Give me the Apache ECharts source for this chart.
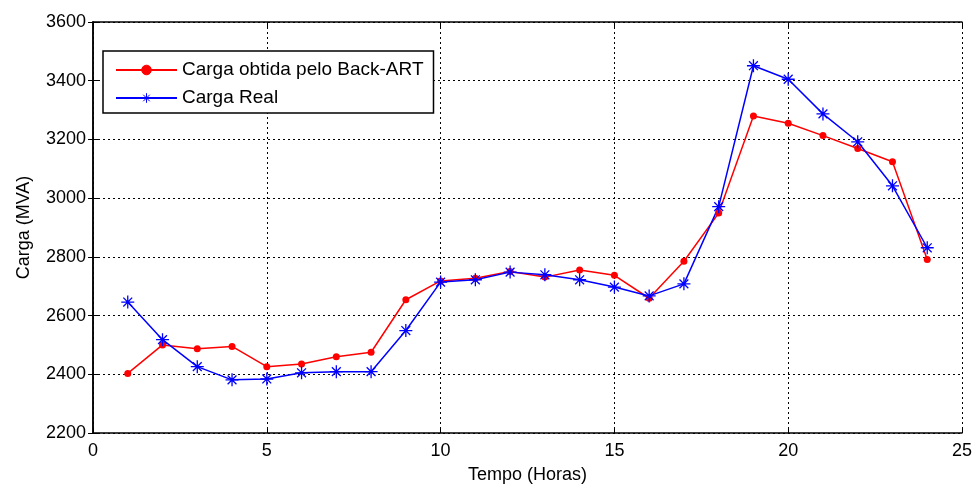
<!DOCTYPE html>
<html>
<head>
<meta charset="utf-8">
<script src="https://cdn.jsdelivr.net/npm/echarts@6/dist/echarts.min.js"></script>
<style>
  html, body { margin: 0; padding: 0; background: #fff; }
  #chart { width: 973px; height: 486px; }
</style>
</head>
<body>
<div id="chart"></div>
<script>
// horas do dia
const horas = [1, 2, 3, 4, 5, 6, 7, 8, 9, 10, 11, 12, 13, 14, 15, 16, 17, 18, 19, 20, 21, 22, 23, 24]
// carga estimada (Back-ART)
const cargaBackArt = [2403, 2500, 2487, 2495, 2426, 2435, 2460, 2475, 2654, 2718, 2727, 2750,
  2731, 2755, 2737, 2659, 2785, 2949, 3280, 3255, 3213, 3169, 3124, 2791]
// carga medida
const cargaReal = [2646, 2518, 2426, 2381, 2384, 2405, 2409, 2409, 2549, 2714, 2722, 2748,
  2739, 2722, 2697, 2667, 2708, 2971, 3451, 3405, 3287, 3192, 3042, 2831]

const nomes = ['Carga obtida pelo Back-ART', 'Carga Real']

const chart = echarts.init(document.getElementById('chart'))

const fonte = 'Liberation Sans, Arial, sans-serif'
const asterisco = 'path://M5,0L5,10M0,5L10,5M1.6,1.6L8.4,8.4M1.6,8.4L8.4,1.6'

const eixoX = {
  type: 'value',
  min: 0,
  max: 25,
  interval: 5
}
const eixoY = {
  type: 'value',
  min: 2200,
  max: 3600,
  interval: 200
}

const option = {
  animation: false,
  textStyle: { fontFamily: fonte, color: '#000' },
  grid: { left: 93, right: 11, top: 22, bottom: 53, outerBoundsMode: 'none', containLabel: false },
  legend: {
    orient: 'vertical',
    left: 103,
    top: 51,
    data: nomes,
    itemWidth: 61,
    itemHeight: 12,
    itemGap: 8,
    padding: [9, 10, 5, 12],
    borderColor: '#000',
    borderWidth: 1.5,
    backgroundColor: '#fff',
    itemStyle: { borderWidth: 1 },
    textStyle: { fontSize: 19, color: '#000', fontFamily: fonte, lineHeight: 20 }
  },
  xAxis: [
    Object.assign({}, eixoX, {
      name: 'Tempo (Horas)',
      nameLocation: 'middle',
      nameGap: 33,
      nameTextStyle: { fontSize: 18, color: '#000' },
      axisLine: { lineStyle: { color: '#000', width: 1.5 } },
      axisTick: { inside: true, length: 5, lineStyle: { color: '#000' } },
      axisLabel: { fontSize: 18, color: '#000', margin: 9 },
      splitLine: { show: true, lineStyle: { color: '#000', type: [2, 3], width: 1 } }
    }),
    Object.assign({}, eixoX, {
      position: 'top',
      axisLine: { lineStyle: { color: '#000', width: 1.5 } },
      axisTick: { inside: true, length: 5, lineStyle: { color: '#000' } },
      axisLabel: { show: false },
      splitLine: { show: false }
    })
  ],
  yAxis: [
    Object.assign({}, eixoY, {
      name: 'Carga (MVA)',
      nameLocation: 'middle',
      nameGap: 60,
      nameTextStyle: { fontSize: 18, color: '#000' },
      axisLine: { show: true, lineStyle: { color: '#000', width: 1.5 } },
      axisTick: { show: true, inside: true, length: 5, lineStyle: { color: '#000' } },
      axisLabel: { fontSize: 18, color: '#000', margin: 7, formatter: v => String(v) },
      splitLine: { show: true, lineStyle: { color: '#000', type: [2, 3], width: 1 } }
    }),
    Object.assign({}, eixoY, {
      position: 'right',
      axisLine: { show: true, lineStyle: { color: '#000', width: 1.5 } },
      axisTick: { show: true, inside: true, length: 5, lineStyle: { color: '#000' } },
      axisLabel: { show: false },
      splitLine: { show: false }
    })
  ],
  series: [
    {
      name: nomes[0],
      type: 'line',
      data: horas.map((h, i) => [h, cargaBackArt[i]]),
      symbol: 'circle',
      symbolSize: 7,
      lineStyle: { color: '#ff0000', width: 1.5 },
      itemStyle: { color: '#ff0000', borderColor: '#ff0000', borderWidth: 0 }
    },
    {
      name: nomes[1],
      type: 'line',
      data: horas.map((h, i) => [h, cargaReal[i]]),
      symbol: asterisco,
      symbolSize: 13,
      lineStyle: { color: '#0000ff', width: 1.5 },
      itemStyle: { color: '#0000ff', borderColor: '#0000ff', borderWidth: 1.3 }
    }
  ]
}

chart.setOption(option)
</script>
</body>
</html>
